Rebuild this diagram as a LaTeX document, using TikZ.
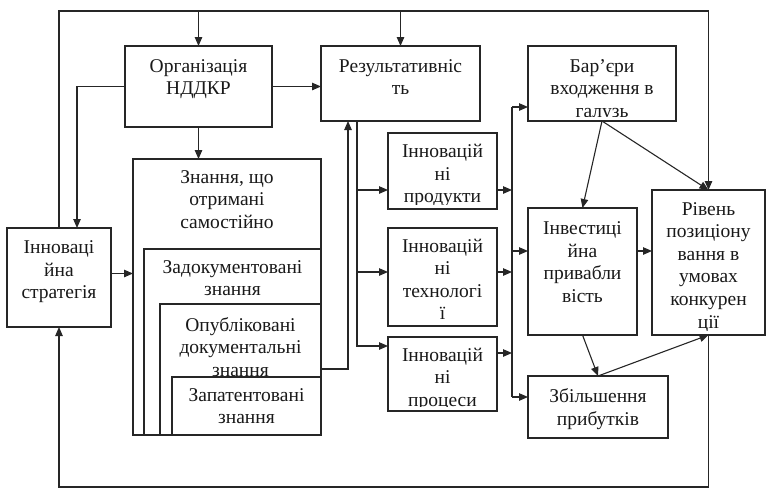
\documentclass[tikz,border=0pt]{standalone}
\usepackage{fontspec}
\setmainfont{Liberation Serif}
\usetikzlibrary{arrows.meta,calc}
\newcommand\mybtext[4]{%
  \begin{scope}
    \clip ($(#1.north west)+(1,1)$) rectangle ($(#1.south east)+(-1,-5)$);
    \node[txt] (#2) at ($(#1.north)+(0,#3)$) {#4};
  \end{scope}}
\begin{document}
\begin{tikzpicture}[x=1pt,y=-1pt,
  box/.style={draw=black!85,line width=1.2pt,fill=white,rectangle,inner sep=0pt,outer sep=0pt,anchor=north west},
  txt/.style={anchor=north,inner sep=0pt,align=center,text=black!90,font=\fontsize{19.5}{22.6}\selectfont},
  ln/.style={draw=black!85,line width=1.1pt},
  arr/.style={ln,-{Triangle[length=9pt,width=7.5pt]}}]
\useasboundingbox (0,0) rectangle (771,490);
% boxes
\node[box,minimum width=147pt,minimum height=81pt] (org) at (125,46) {};
\node[box,minimum width=159pt,minimum height=75pt] (rez) at (321,46) {};
\node[box,minimum width=148pt,minimum height=75pt] (bar) at (528,46) {};
\node[box,minimum width=188pt,minimum height=276pt] (zn) at (133,159) {};
\mybtext{zn}{znT}{11}{Знання, що\\отримані\\самостійно}
\node[box,minimum width=177pt,minimum height=186pt] (zd) at (144,249) {};
\mybtext{zd}{zdT}{11}{Задокументовані\\знання}
\node[box,minimum width=161pt,minimum height=131pt] (op) at (160,304) {};
\mybtext{op}{opT}{13}{Опубліковані\\документальні\\знання}
\node[box,minimum width=149pt,minimum height=58pt] (zp) at (172,377) {};
\mybtext{zp}{zpT}{11}{Запатентовані\\знання}
\node[box,minimum width=104pt,minimum height=99pt] (strat) at (7,228) {};
\node[box,minimum width=109pt,minimum height=76pt] (prod) at (388,133) {};
\node[box,minimum width=109pt,minimum height=98pt] (tech) at (388,228) {};
\node[box,minimum width=109pt,minimum height=74pt] (proc) at (388,337) {};
\node[box,minimum width=109pt,minimum height=127pt] (inv) at (528,208) {};
\node[box,minimum width=113pt,minimum height=145pt] (riv) at (652,190) {};
\node[box,minimum width=140pt,minimum height=62pt] (zb) at (528,376) {};
% texts
\mybtext{org}{orgT}{13}{Організація\\НДДКР}
\mybtext{rez}{rezT}{13}{Результативніс\\ть}
\mybtext{bar}{barT}{13}{\fontsize{19.5}{23.2}\selectfont Бар’єри\\входження в\\галузь}
\mybtext{strat}{stratT}{12.5}{Інноваці\\йна\\стратегія}
\mybtext{prod}{prodT}{11}{Інновацій\\ні\\продукти}
\mybtext{tech}{techT}{10.5}{Інновацій\\ні\\технологі\\ї}
\mybtext{proc}{procT}{10.5}{Інновацій\\ні\\процеси}
\mybtext{inv}{invT}{13.5}{Інвестиці\\йна\\привабли\\вість}
\mybtext{riv}{rivT}{12}{Рівень\\позиціону\\вання в\\умовах\\конкурен\\ції}
\mybtext{zb}{zbT}{12.5}{Збільшення\\прибутків}
% helper coordinates
\coordinate (top) at (0,11);
\coordinate (bot) at (0,487);
\coordinate (bus) at (512,0);
\coordinate (se) at ($(strat.east)+(0,-4)$);
\coordinate (znout) at ($(zn.south east)+(0,-66)$);
\coordinate (rezin) at ($(rez.south west)+(27,0)$);
\coordinate (rezout) at ($(rez.south west)+(36,0)$);
\coordinate (prodin) at ($(prod.south west)+(0,-19)$);
\coordinate (techin) at ($(tech.west)+(0,-5)$);
\coordinate (procin) at ($(proc.north west)+(0,9)$);
\coordinate (prodout) at ($(prod.south east)+(0,-19)$);
\coordinate (techout) at ($(tech.east)+(0,-5)$);
\coordinate (procout) at ($(proc.north east)+(0,16)$);
\coordinate (barin) at ($(bar.south west)+(0,-14)$);
\coordinate (invin) at ($(inv.north west)+(0,43)$);
\coordinate (zbin) at ($(zb.north west)+(0,21)$);
\coordinate (invout) at ($(inv.north east)+(0,43)$);
% frame loops
\draw[arr] (strat.north) |- (top -| riv.north) -- (riv.north);
\draw[arr] (org.north |- top) -- (org.north);
\draw[arr] (rez.north |- top) -- (rez.north);
\draw[arr] (riv.south) |- (bot -| strat.south) -- (strat.south);
% organisation
\draw[arr] (org.west) -| ($(strat.north)+(18,0)$);
\draw[arr] (org.east) -- (org.east -| rez.west);
\draw[arr] (org.south) -- (org.south |- zn.north);
\draw[arr] (se) -- (se -| zn.west);
\draw[arr] (znout) -| (rezin);
% results to innovations
\draw[arr] (rezout) |- (procin);
\draw[arr] (rezout |- prodin) -- (prodin);
\draw[arr] (rezout |- techin) -- (techin);
% innovations to bus
\draw[arr] (prodout) -- (prodout -| bus);
\draw[arr] (techout) -- (techout -| bus);
\draw[arr] (procout) -- (procout -| bus);
\draw[ln] (bus |- barin) -- (bus |- zbin);
\draw[arr] (bus |- barin) -- (barin);
\draw[arr] (bus |- invin) -- (invin);
\draw[arr] (bus |- zbin) -- (zbin);
% right part
\draw[arr] (bar.south) -- (inv.north);
\draw[arr] (bar.south) -- (riv.north);
\draw[arr] (invout) -- (invout -| riv.west);
\draw[arr] (inv.south) -- (zb.north);
\draw[arr] (zb.north) -- (riv.south);
\end{tikzpicture}
\end{document}
